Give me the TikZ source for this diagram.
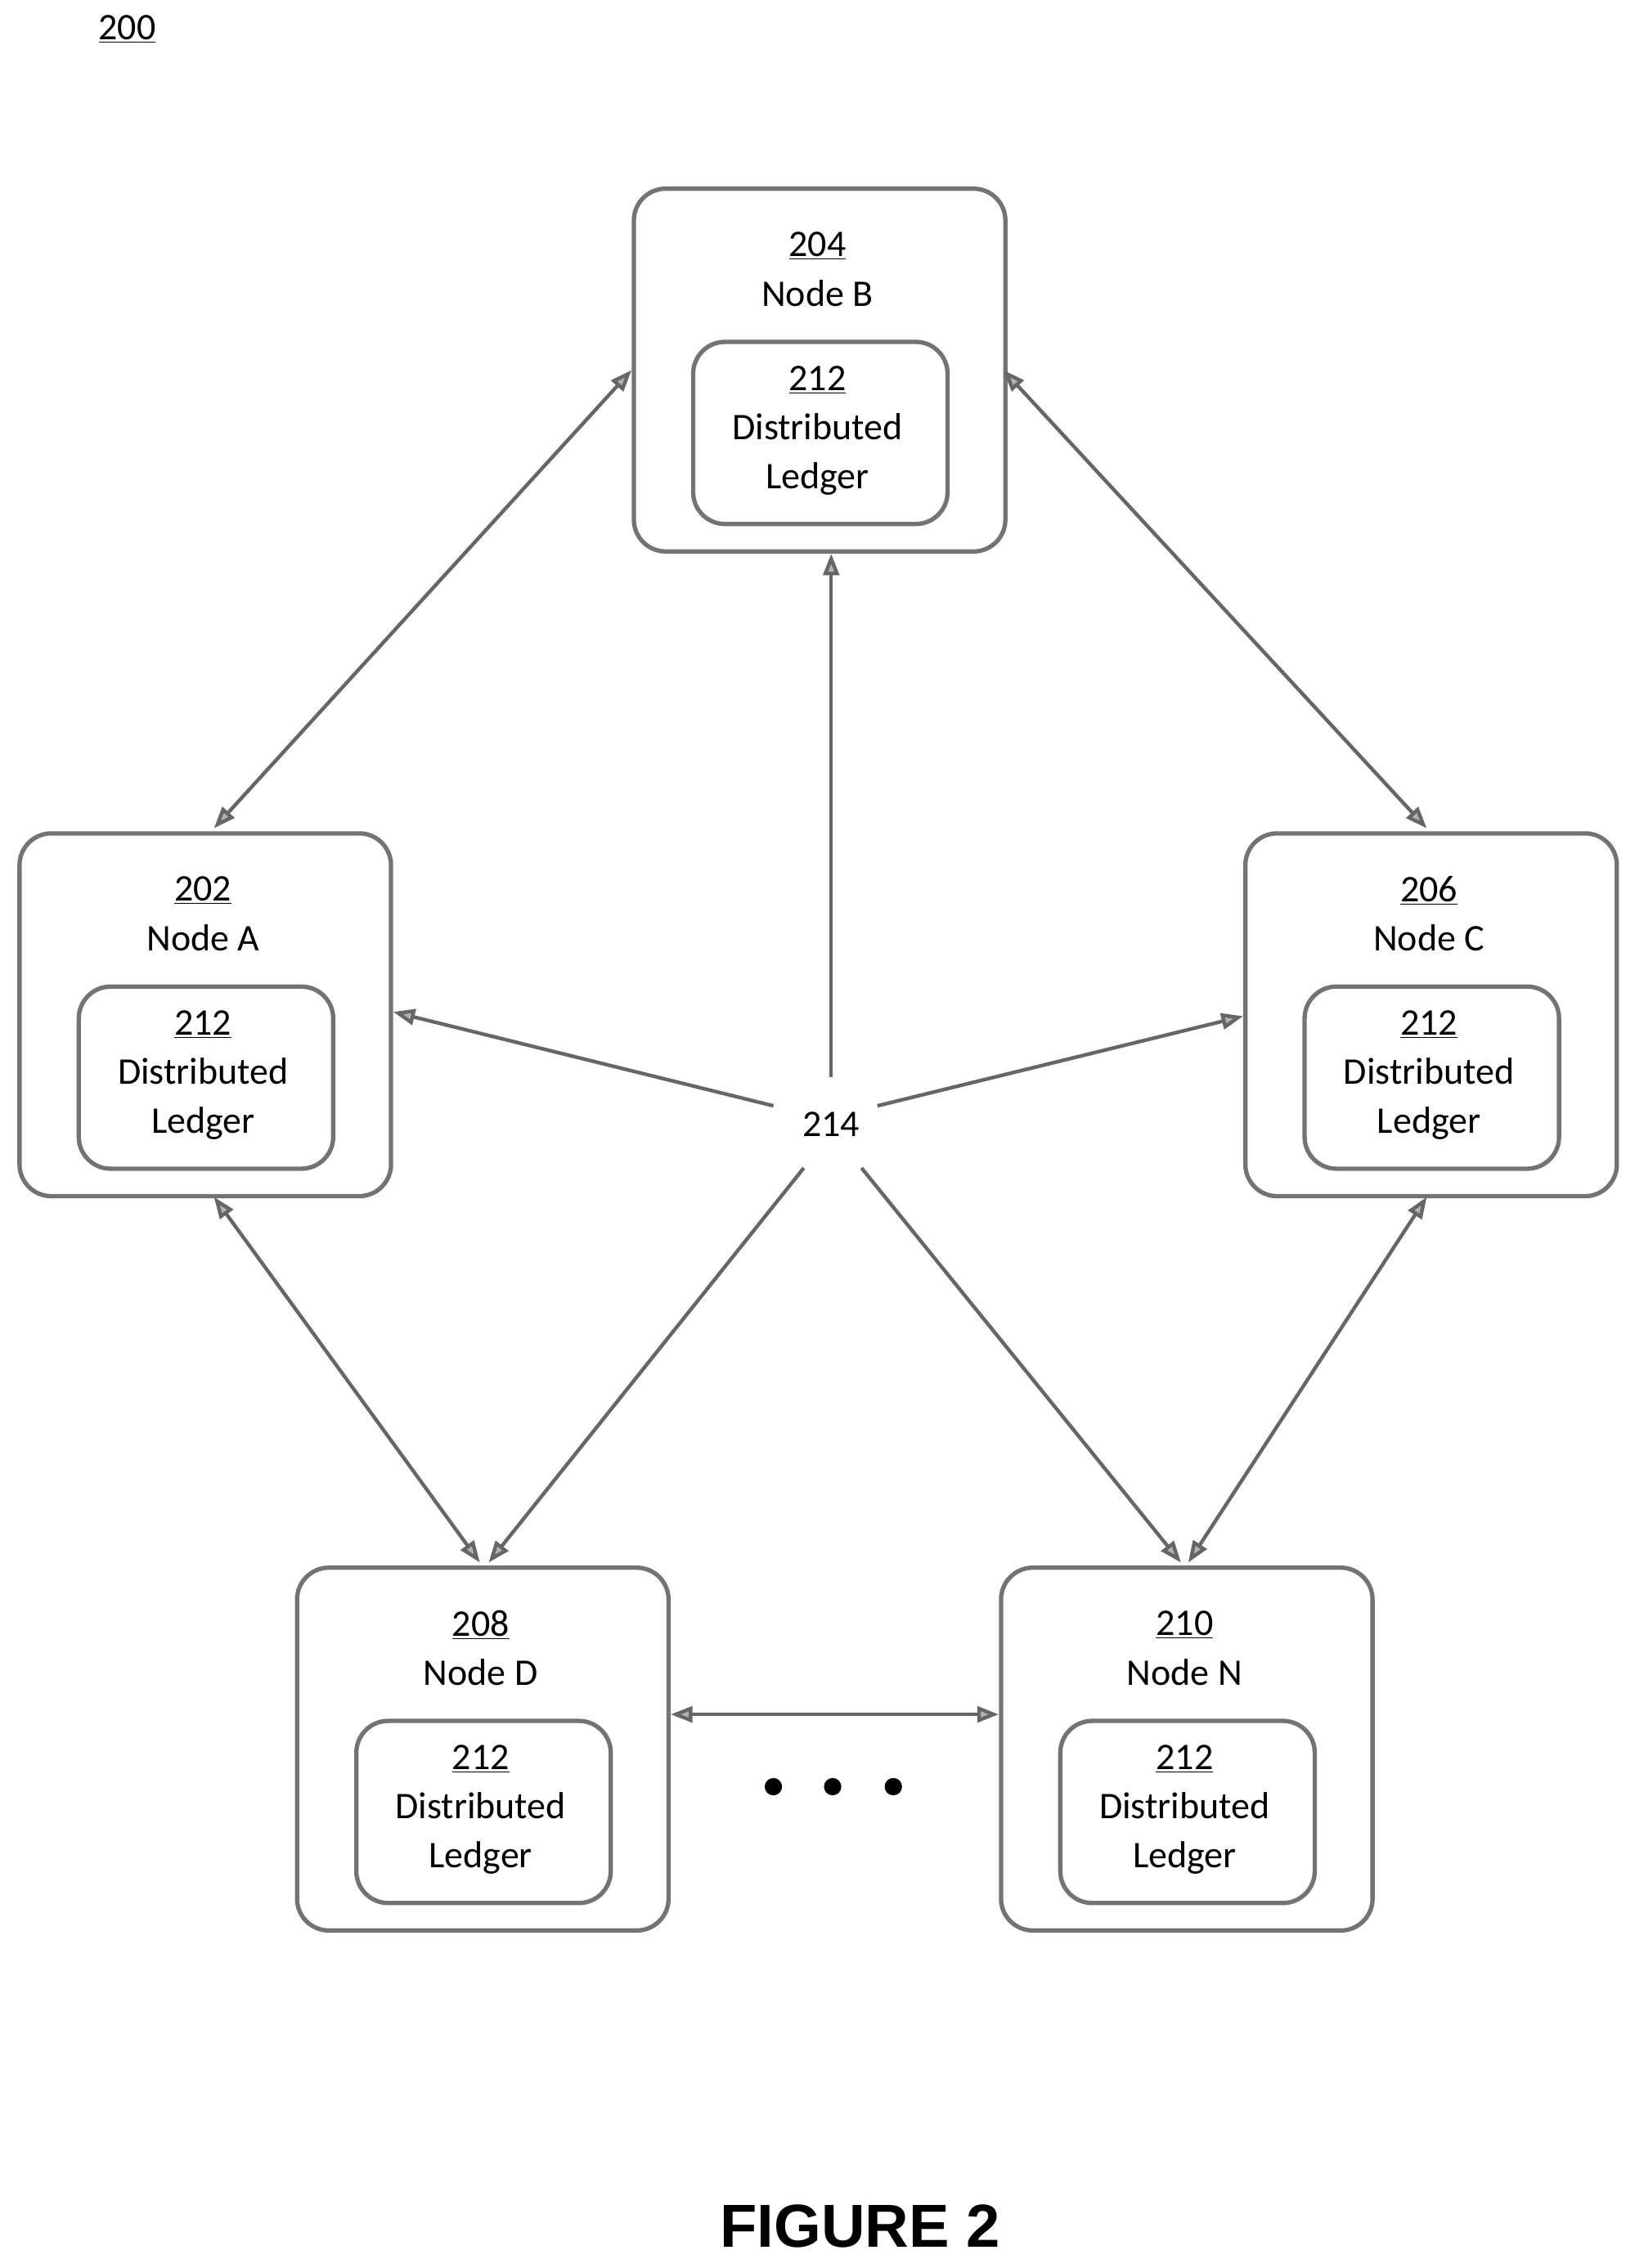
\documentclass[tikz,border=0pt]{standalone}
\usepackage{fontspec}
\setmainfont{Carlito}
\newfontfamily\figfont{Liberation Sans}
\usetikzlibrary{arrows.meta}
\begin{document}
\begin{tikzpicture}[x=1pt,y=-1pt,
  box/.style={draw=black!55,line width=3pt,rounded corners=22pt,inner sep=0},
  lbl/.style={font=\fontsize{26}{34}\selectfont,align=center},
  arr/.style={draw=black!60,line width=2.5pt,{Triangle[length=15pt,width=11pt,fill=black!30]}-{Triangle[length=15pt,width=11pt,fill=black!30]}},
  one/.style={draw=black!60,line width=2.5pt,-{Triangle[length=15pt,width=11pt,fill=black!30]}}]
\useasboundingbox (0,0) rectangle (1131,1569);
\node[lbl] (n200) at (88,20) {\underline{200}};
\newcommand\mynode[4]{% name, x, y (top-left), id
  \node[box,minimum width=257pt,minimum height=251pt,anchor=north west] (#1) at (#2,#3) {};
  \node[box,minimum width=176pt,minimum height=126pt,anchor=north west] (#1l) at (#2+41,#3+106) {};
  \node[lbl] (#1t) at (#2+128.5,#3+41) {\underline{#4}};
  \node[lbl] (#1lt) at (#2+128.5,#3+169) {\underline{212}\\Distributed\\Ledger};
}
\mynode{B}{437}{129}{204}
\node[lbl] at (565.5,203) {Node B};
\mynode{A}{12}{575}{202}
\node[lbl] at (140.5,649) {Node A};
\mynode{C}{860}{575}{206}
\node[lbl] at (988.5,649) {Node C};
\mynode{D}{204}{1083}{208}
\node[lbl] at (332.5,1157) {Node D};
\mynode{N}{691}{1083}{210}
\node[lbl] at (819.5,1157) {Node N};
\node[lbl] (c) at (575,778) {214};
\foreach \x in {535,576,618} \fill (\x,1236) circle (6pt);
\node[font=\figfont\bfseries\fontsize{42}{50}\selectfont] (fig) at (595,1540) {FIGURE 2};
\coordinate (ab1) at (148,573); \coordinate (ab2) at (437,256);
\coordinate (bc1) at (694,256); \coordinate (bc2) at (987,573);
\coordinate (ad1) at (148,828); \coordinate (ad2) at (332,1081);
\coordinate (cn1) at (987,828); \coordinate (cn2) at (822,1081);
\draw[arr] (ab1) -- (ab2);
\draw[arr] (bc1) -- (bc2);
\draw[arr] (ad1) -- (ad2);
\draw[arr] (cn1) -- (cn2);
\draw[arr] (D.east |- 0,1186) -- (N.west |- 0,1186);
\coordinate (sB) at (575,745); \coordinate (eB) at (575,383);
\coordinate (sA) at (535,765); \coordinate (eA) at (272,700);
\coordinate (sC) at (607,765); \coordinate (eC) at (860,703);
\coordinate (sD) at (556,808); \coordinate (eD) at (338,1081);
\coordinate (sN) at (596,808); \coordinate (eN) at (817,1081);
\foreach \p in {B,A,C,D,N} \draw[one] (s\p) -- (e\p);
\end{tikzpicture}
\end{document}
